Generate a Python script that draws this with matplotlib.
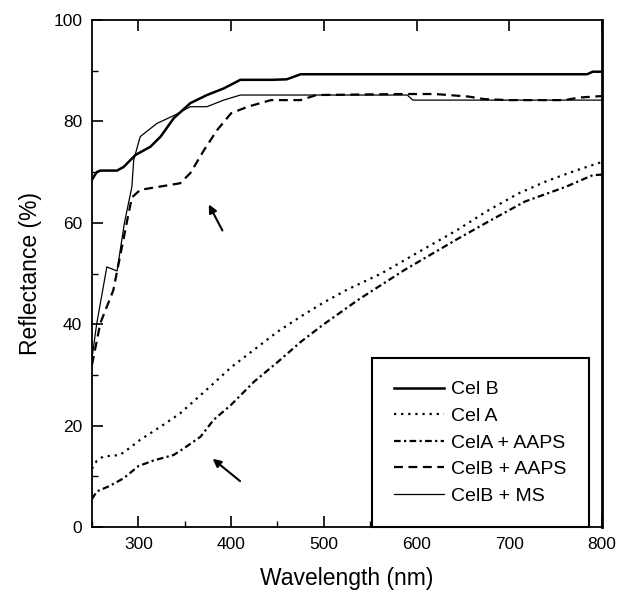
import matplotlib
matplotlib.use("Agg")
import matplotlib.pyplot as plt
from matplotlib.ticker import MultipleLocator

plt.rcParams['font.family'] = ['Liberation Sans', 'DejaVu Sans']

# Cel B (thick solid)
celb_x = [250, 255, 259, 277, 284, 297, 313, 324, 338, 356, 374, 392, 410, 444, 460, 475, 600, 700, 784, 790, 800]
celb_y = [68.5, 70.0, 70.3, 70.3, 71.0, 73.4, 75.0, 77.0, 80.6, 83.6, 85.2, 86.5, 88.2, 88.2, 88.3, 89.3, 89.3, 89.3, 89.3, 89.8, 89.8]

# Cel A (dotted)
cela_x = [250, 255, 262, 280, 290, 302, 324, 345, 367, 381, 400, 425, 450, 475, 500, 525, 562, 600, 645, 675, 710, 740, 770, 800]
cela_y = [11.5, 13.0, 13.9, 14.2, 15.5, 17.2, 19.8, 22.4, 26.0, 28.3, 31.5, 35.0, 38.5, 41.5, 44.3, 46.8, 50.0, 54.0, 58.7, 62.2, 65.8, 68.2, 70.2, 72.0]

# CelA + AAPS (dash-dot)
celaa_x = [250, 255, 269, 284, 300, 316, 338, 349, 367, 381, 400, 425, 450, 475, 500, 537, 587, 645, 680, 717, 761, 790, 800]
celaa_y = [5.5, 7.0, 8.1, 9.6, 12.0, 13.1, 14.2, 15.5, 17.8, 21.1, 24.1, 28.7, 32.5, 36.5, 40.0, 44.8, 50.7, 56.9, 60.5, 64.2, 67.1, 69.4, 69.5]

# CelB + AAPS (dashed)
celba_x = [250, 259, 273, 288, 293, 302, 345, 356, 371, 385, 400, 418, 443, 475, 492, 584, 620, 656, 673, 700, 760, 775, 800]
celba_y = [32.0, 40.2, 46.7, 60.5, 65.0, 66.5, 67.8, 69.8, 74.4, 78.3, 81.6, 82.9, 84.2, 84.2, 85.2, 85.4, 85.4, 84.9, 84.4, 84.2, 84.2, 84.7, 85.0]

# CelB + MS (thin solid)
celbm_x = [250, 255, 266, 277, 285, 293, 295, 302, 320, 340, 356, 374, 392, 410, 590, 596, 700, 800]
celbm_y = [33.3, 40.0, 51.3, 50.5, 60.0, 67.1, 72.4, 77.0, 79.6, 81.3, 82.9, 82.9, 84.2, 85.2, 85.2, 84.2, 84.2, 84.2]

labels = ['Cel B', 'Cel A', 'CelA + AAPS', 'CelB + AAPS', 'CelB + MS']

fig = plt.figure(figsize=(6.18, 5.90), dpi=100)
ax = fig.add_axes([92/618, 63/590, 510/618, 507/590])

ax.plot(celb_x, celb_y, color='black', lw=1.8, label=labels[0])
ax.plot(cela_x, cela_y, color='black', lw=1.6, ls=(0, (1, 2.2)), label=labels[1])
ax.plot(celaa_x, celaa_y, color='black', lw=1.6, ls=(0, (3, 1.5, 1, 1.5)), label=labels[2])
ax.plot(celba_x, celba_y, color='black', lw=1.6, ls=(0, (4, 2.5)), label=labels[3])
ax.plot(celbm_x, celbm_y, color='black', lw=0.9, label=labels[4])

ax.set_xlim(250, 800)
ax.set_ylim(0, 100)
ax.xaxis.set_major_locator(MultipleLocator(100))
ax.xaxis.set_minor_locator(MultipleLocator(50))
ax.yaxis.set_major_locator(MultipleLocator(20))
ax.yaxis.set_minor_locator(MultipleLocator(10))
ax.tick_params(which='major', direction='in', length=8, width=1.2, labelsize=12.5, pad=7)
ax.tick_params(which='minor', direction='in', length=4, width=1.0)
ax.tick_params(axis='x', top=True, which='major')
ax.tick_params(axis='x', top=False, which='minor')
ax.tick_params(axis='y', right=False, which='both')
for s in ax.spines.values():
    s.set_linewidth(1.3)
ax.spines['right'].set_linewidth(2.0)

ax.set_xlabel('Wavelength (nm)', fontsize=16.5, labelpad=11)
ax.set_ylabel('Reflectance (%)', fontsize=16.5, labelpad=8)

ax.annotate('', xy=(374.6, 64.1), xytext=(392, 58),
            arrowprops=dict(arrowstyle='-|>', color='black', lw=1.5, mutation_scale=12))
ax.annotate('', xy=(377.8, 13.8), xytext=(412, 8.7),
            arrowprops=dict(arrowstyle='-|>', color='black', lw=1.5, mutation_scale=12))

leg = ax.legend(loc='lower right', bbox_to_anchor=(0.9745, 0.0), fontsize=14,
                handlelength=2.6, labelspacing=0.46, borderpad=1.15, handletextpad=0.35,
                fancybox=False, framealpha=1, edgecolor='black', borderaxespad=0)
leg.get_frame().set_linewidth(1.5)

fig.savefig('out.png', dpi=100)
